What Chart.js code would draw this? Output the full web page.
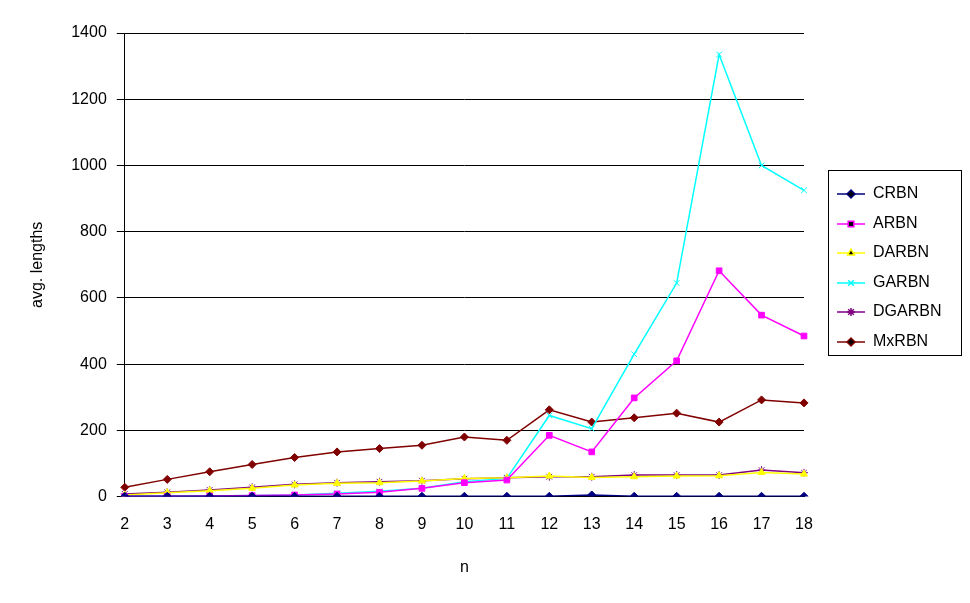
<!DOCTYPE html>
<html><head><script src="https://cdn.jsdelivr.net/npm/chart.js@4"></script>
<style>body{margin:0;background:#fff}#w{width:970px;height:603px;position:relative}
#lg{position:absolute;left:828px;top:170px;width:134px;height:186px;border:1px solid #000;font:16px "Liberation Sans",Arial;box-sizing:border-box}
</style></head><body><div id="w"><canvas id="c" width="970" height="603"></canvas><div id="lg"></div></div>
<script>
const categories=['2','3','4','5','6','7','8','9','10','11','12','13','14','15','16','17','18'];
const CRBN=[1,1,1,1,1,1,1,1,1,1,1,5,1,1,1,1,1];
const ARBN=[1,1,2,3,5,8,13,25,42,50,185,135,298,410,682,548,485];
const DARBN=[5,12,18,25,35,40,42,47,55,57,62,58,60,62,63,73,68];
const GARBN=[1,1,2,3,5,10,16,25,45,55,245,205,430,645,1335,1000,925];
const DGARBN=[8,13,20,28,37,42,45,48,54,57,60,60,65,65,65,80,72];
const MxRBN=[28,52,75,97,118,135,145,155,180,170,262,225,238,252,225,292,283];
const yTicks=[0,200,400,600,800,1000,1200,1400];
const S=[['CRBN',CRBN,'#000080','rectRot',4],['ARBN',ARBN,'#FF00FF','rect',4],['DARBN',DARBN,'#FFFF00','triangle',4],
['GARBN',GARBN,'#00FFFF','crossRot',4],['DGARBN',DGARBN,'#800080','star',4],['MxRBN',MxRBN,'#800000','rectRot',4]];
const F='"Liberation Sans",Arial';
new Chart(document.getElementById('c'),{type:'line',data:{labels:categories,datasets:S.map(s=>({label:s[0],data:s[1],borderColor:s[2],backgroundColor:s[2],pointStyle:s[3],pointRadius:s[4],borderWidth:1.5,pointBorderWidth:1,tension:0}))},
options:{responsive:false,animation:false,layout:{padding:{left:24,right:166,top:33,bottom:22}},plugins:{legend:{display:false},tooltip:{enabled:false}},
scales:{x:{offset:false,title:{display:true,text:'n',font:{family:F,size:16},color:'#000',padding:{top:14}},ticks:{font:{family:F,size:16},color:'#000',maxRotation:0,padding:10},grid:{display:false,drawTicks:true},border:{color:'#000'}},
y:{min:0,max:1400,afterBuildTicks:a=>{a.ticks=yTicks.map(v=>({value:v}))},title:{display:true,text:'avg. lengths',font:{family:F,size:16},color:'#000',padding:{bottom:14}},ticks:{font:{family:F,size:16},color:'#000',padding:10,callback:v=>String(v)},grid:{color:'#000',drawTicks:true},border:{color:'#000'}}}}});
const lg=document.getElementById('lg');
S.forEach((s,i)=>{const c=document.createElement('canvas');c.width=132;c.height=30;c.style.position='absolute';c.style.left='0';c.style.top=(8+i*29.5)+'px';lg.appendChild(c);
const x=c.getContext('2d');x.strokeStyle=s[2];x.lineWidth=1.5;x.beginPath();x.moveTo(8,15);x.lineTo(36,15);x.stroke();
Chart.helpers.drawPoint(x,{pointStyle:s[3],radius:4,borderWidth:1},22,15);x.fillStyle=s[2];
x.fillStyle='#000';x.font='16px '+F;x.textBaseline='middle';x.fillText(s[0],44,15);});
</script></body></html>
